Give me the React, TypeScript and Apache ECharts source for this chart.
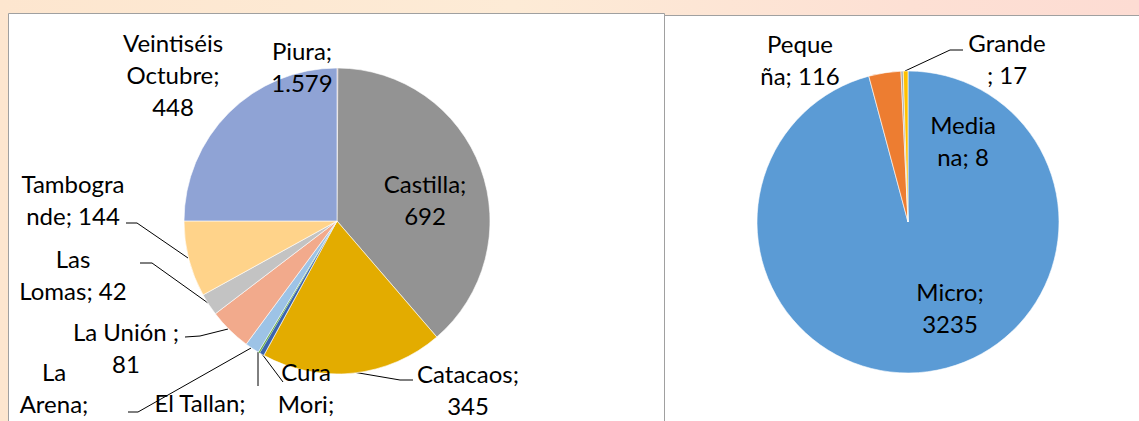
import React, { useEffect, useRef } from "react";
import * as echarts from "echarts";

// ---- Left pie: districts ----
const districtNames = [
  "Piura",
  "Castilla",
  "Catacaos",
  "Cura Mori",
  "El Tallan",
  "La Arena",
  "La Unión",
  "Las Lomas",
  "Tambogrande",
  "Veintiséis Octubre",
];
const districtValues = [1.579, 692, 345, 9, 3, 27, 81, 42, 144, 448];
const districtLabelText = [
  "Piura;\n{v}",
  "Castilla;\n{v}",
  "Catacaos;\n{v}",
  "Cura\nMori;\n{v}",
  "El Tallan;\n{v}",
  "La\nArena;\n{v}",
  "La Unión ;\n{v}",
  "Las\nLomas; {v}",
  "Tambogra\nnde; {v}",
  "Veintiséis\nOctubre;\n{v}",
];
const districtColors = [
  "#C9A29B",
  "#939393",
  "#E3AC00",
  "#3B64AD",
  "#6AAF4B",
  "#9DC3E6",
  "#F2AA8C",
  "#C3C3C3",
  "#FFD38A",
  "#8FA3D5",
];

// ---- Right pie: company size ----
const sizeNames = ["Micro", "Pequeña", "Mediana", "Grande"];
const sizeValues = [3235, 116, 8, 17];
const sizeLabelText = ["Micro;\n{v}", "Peque\nña; {v}", "Media\nna; {v}", "Grande\n; {v}"];
const sizeColors = ["#5B9BD5", "#ED7D31", "#A5A5A5", "#FFC000"];

// ---- Label placement (layout only) ----
type Place = { x: number; y: number; line?: number[][] };
const leftPlaces: Place[] = [
  { x: 302, y: 66 },
  { x: 425, y: 199 },
  { x: 468, y: 389, line: [[353, 372], [400, 380], [413, 380]] },
  { x: 306, y: 403, line: [[262, 354], [283, 382]] },
  { x: 200, y: 418, line: [[258, 352], [258, 386]] },
  { x: 54, y: 403, line: [[251, 348], [138, 412], [128, 412]] },
  { x: 126, y: 347, line: [[228, 329], [200, 336], [185, 337]] },
  { x: 73, y: 274, line: [[208, 303], [152, 263], [140, 263]] },
  { x: 73, y: 199, line: [[188, 258], [137, 223], [126, 223]] },
  { x: 173, y: 74 },
];
const rightPlaces: Place[] = [
  { x: 950, y: 307 },
  { x: 800, y: 59 },
  { x: 963, y: 140 },
  { x: 1007, y: 58, line: [[905, 71], [950, 50], [963, 50]] },
];

const FONT = "Lato, 'Open Sans', sans-serif";

function buildData(names: string[], values: number[], texts: string[], colors: string[], places: Place[]) {
  return names.map((name, i) => ({
    name,
    value: values[i],
    itemStyle: { color: colors[i], borderWidth: values[i] < 5 ? 0 : 0.6 },
    label: {
      position: places[i].line ? "outside" : "inside",
      formatter: texts[i].replace("{v}", String(values[i])),
    },
    labelLine: { show: !!places[i].line },
  }));
}

function layoutFor(places: Place[]) {
  return (params: any) => {
    const p = places[params.dataIndex];
    const out: any = { x: p.x, y: p.y, align: "center", verticalAlign: "middle" };
    if (p.line) out.labelLinePoints = p.line;
    return out;
  };
}

const commonLabel = {
  color: "#000",
  fontFamily: FONT,
  fontSize: 24,
  lineHeight: 32,
  align: "center",
};

export default function App() {
  const ref = useRef<HTMLDivElement>(null);

  useEffect(() => {
    if (!ref.current) return;
    const chart = echarts.init(ref.current, undefined, { renderer: "svg" });
    chart.setOption({
      animation: false,
      backgroundColor: "transparent",
      graphic: [
        {
          type: "rect",
          z: 0,
          shape: { x: 8.5, y: 13.5, width: 656, height: 430 },
          style: { fill: "#fff", stroke: "#A0A0A0", lineWidth: 1 },
        },
        {
          type: "rect",
          z: 0,
          shape: { x: 664.5, y: 15.5, width: 490, height: 430 },
          style: { fill: "#fff", stroke: "#A0A0A0", lineWidth: 1 },
        },
      ],
      series: [
        {
          type: "pie",
          z: 2,
          center: [337, 221],
          radius: 153,
          startAngle: 90,
          clockwise: true,
          avoidLabelOverlap: false,
          itemStyle: { borderColor: "#ffffff", borderWidth: 0.6 },
          label: { ...commonLabel },
          labelLine: { show: true, lineStyle: { color: "#000", width: 1 } },
          emphasis: { disabled: true },
          labelLayout: layoutFor(leftPlaces),
          data: buildData(districtNames, districtValues, districtLabelText, districtColors, leftPlaces),
        },
        {
          type: "pie",
          z: 2,
          center: [908, 222],
          radius: 151,
          startAngle: 90,
          clockwise: true,
          avoidLabelOverlap: false,
          itemStyle: { borderColor: "#ffffff", borderWidth: 0.6 },
          label: { ...commonLabel },
          labelLine: { show: true, lineStyle: { color: "#000", width: 1 } },
          emphasis: { disabled: true },
          labelLayout: layoutFor(rightPlaces),
          data: buildData(sizeNames, sizeValues, sizeLabelText, sizeColors, rightPlaces),
        },
      ],
    });
    return () => chart.dispose();
  }, []);

  return (
    <div
      style={{
        position: "fixed",
        left: 0,
        top: 0,
        width: 1139,
        height: 421,
        overflow: "hidden",
        background: "linear-gradient(to right, #FDE6CF 0%, #FDEBD6 45%, #FDE0D4 80%, #FDDCD3 100%)",
      }}
    >
      <div ref={ref} style={{ width: 1139, height: 421 }} />
    </div>
  );
}
